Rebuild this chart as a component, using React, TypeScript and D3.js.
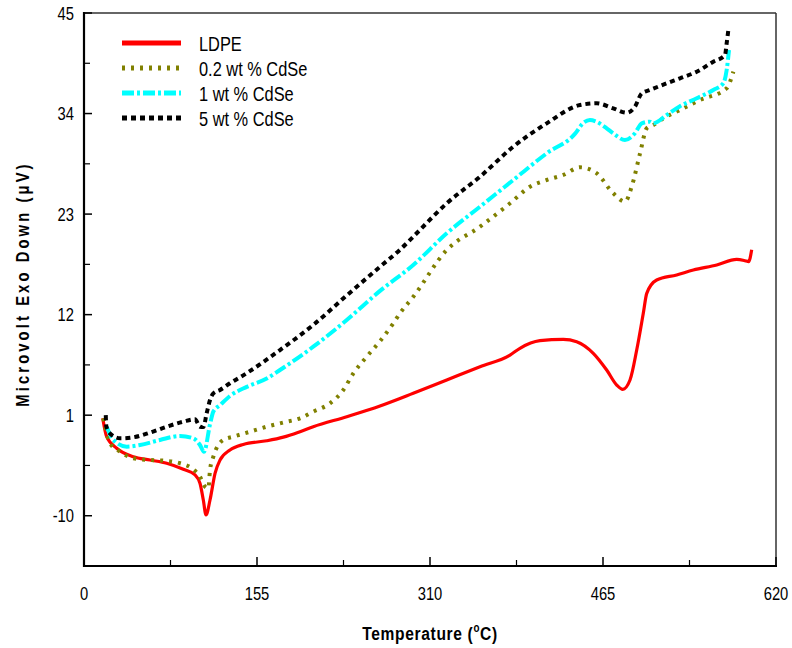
import React from 'react';
import * as d3 from 'd3';

// temperature (°C), microvolt readings
const ldpe: [number, number][] = [
  [16.8, 0.66], [20.3, -1.35], [29.3, -2.62], [44.2, -3.54], [59.1, -3.9], [74.1, -4.26],
  [89.0, -4.92], [99.5, -5.54], [103.9, -6.45], [106.9, -8.28], [109.3, -9.92], [112.9, -8.28],
  [117.4, -5.36], [121.9, -3.9], [130.8, -2.81], [142.7, -2.2], [163.7, -1.8], [178.6, -1.4],
  [193.5, -0.8], [205.4, -0.26], [235.4, 0.83], [265.2, 2.0], [295.0, 3.39], [325.0, 4.85],
  [354.8, 6.3], [381.7, 7.58], [390.6, 8.32], [408.5, 9.15], [429.4, 9.3], [441.4, 9.04],
  [456.3, 7.77], [468.3, 5.94], [477.3, 4.3], [482.7, 3.83], [489.2, 4.85], [495.2, 8.13],
  [501.1, 12.15], [504.2, 14.33], [513.1, 15.79], [531.0, 16.34], [545.9, 16.88], [566.9, 17.43],
  [584.8, 18.05], [592.3, 17.9], [595.5, 17.8], [598.2, 19.1],
];

const cdse02: [number, number][] = [
  [17.3, 0.66], [23.3, -2.07], [32.3, -2.99], [44.2, -3.72], [59.1, -3.9], [74.1, -4.0],
  [86.0, -4.26], [96.5, -4.8], [103.9, -5.72], [108.4, -6.82], [111.4, -7.0], [112.9, -5.0],
  [115.9, -3.54], [124.8, -1.71], [133.8, -1.35], [148.7, -0.81], [163.7, -0.26], [178.6, 0.2],
  [193.5, 0.66], [205.4, 1.38], [220.4, 2.3], [232.3, 3.75], [241.3, 5.58], [253.3, 7.4],
  [265.2, 9.1], [277.1, 11.05], [283.1, 12.15], [295.0, 13.96], [325.0, 19.07], [354.8, 21.62],
  [381.7, 24.18], [399.6, 26.0], [414.6, 26.73], [429.4, 27.28], [444.4, 28.12], [459.4, 27.46],
  [474.2, 25.27], [484.7, 24.36], [490.7, 26.0], [498.2, 29.65], [504.2, 32.39], [510.1, 32.75],
  [519.1, 33.48], [534.0, 34.39], [551.9, 35.48], [575.8, 36.76], [581.8, 38.58],
];

const cdse1: [number, number][] = [
  [20.3, -0.26], [26.3, -1.71], [38.3, -2.44], [50.2, -2.26], [68.1, -1.71], [86.0, -1.28],
  [97.9, -1.53], [103.9, -2.26], [107.5, -3.0], [112.9, 0.0], [115.9, 1.4], [121.9, 2.1],
  [130.8, 3.1], [145.8, 4.1], [163.7, 5.0], [175.6, 5.94], [205.4, 8.49], [235.4, 11.41],
  [265.2, 14.6], [295.0, 17.43], [325.0, 20.9], [354.8, 23.81], [384.6, 26.73], [414.6, 29.65],
  [440.0, 31.8], [447.5, 33.0], [453.3, 33.3], [459.4, 33.1], [468.3, 32.39], [474.2, 31.84],
  [484.7, 31.11], [493.6, 31.84], [499.7, 32.93], [507.1, 33.11], [510.1, 32.93], [522.1, 33.84],
  [534.0, 34.8], [549.0, 35.67], [563.8, 36.58], [572.8, 37.31], [575.8, 38.76], [577.9, 40.95],
];

const cdse5: [number, number][] = [
  [19.5, 1.0], [20.0, -0.2], [23.3, -1.0], [32.3, -1.53], [44.2, -1.42], [59.1, -0.91],
  [74.1, -0.26], [89.0, 0.29], [99.5, 0.55], [103.9, -0.26], [106.9, -0.3], [109.9, 1.2],
  [112.9, 2.66], [115.9, 3.39], [121.9, 3.76], [130.8, 4.49], [145.8, 5.6], [175.6, 8.13],
  [205.4, 10.87], [235.4, 14.1], [265.2, 17.24], [283.1, 19.1], [295.0, 20.53], [325.0, 24.18],
  [354.8, 27.09], [384.6, 30.37], [414.6, 32.93], [444.4, 34.93], [459.4, 35.12], [474.2, 34.57],
  [486.2, 34.09], [493.6, 34.75], [499.7, 36.21], [507.1, 36.58], [522.1, 37.31], [534.0, 37.86],
  [549.0, 38.58], [563.8, 39.67], [574.3, 40.4], [575.8, 41.69], [577.3, 43.14],
];

const seriesNames = ['LDPE', '0.2 wt % CdSe', '1 wt % CdSe', '5 wt % CdSe'];
const xTicks = [0, 155, 310, 465, 620];
const yTicks = [-10, 1, 12, 23, 34, 45];

const font = '"Liberation Sans", Arial, sans-serif';
const narrow = 0.82; // the original uses a condensed face

const W = 792, H = 648;
const left = 84, right = 776, top = 13, bottom = 566;

// text squeezed horizontally around its anchor point
const NText = ({ x, y, anchor = 'start', size, weight = 'normal', rotate = 0, spacing = 0, children }: any) => (
  <text transform={`translate(${x},${y}) rotate(${rotate}) scale(${narrow},1)`} textAnchor={anchor}
    fontSize={size} fontWeight={weight} fontFamily={font} letterSpacing={spacing}>
    {children}
  </text>
);

export default function App() {
  const x = d3.scaleLinear().domain([0, 620]).range([left, right]);
  const y = d3.scaleLinear().domain([-15.5, 45]).range([bottom, top]);

  const line = d3.line<[number, number]>()
    .x(d => x(d[0]))
    .y(d => y(d[1]))
    .curve(d3.curveMonotoneX);

  const styles = [
    { data: ldpe, color: '#ff0000', width: 3.2, dash: null },
    { data: cdse02, color: '#808000', width: 4, dash: '3 6' },
    { data: cdse1, color: '#00ffff', width: 4, dash: '12 3 3 3' },
    { data: cdse5, color: '#000000', width: 4, dash: '5 4' },
  ];

  // minor ticks sit halfway between majors
  const xMinor = xTicks.slice(0, -1).map((t, i) => (t + xTicks[i + 1]) / 2);
  const yMinor = yTicks.slice(0, -1).map((t, i) => (t + yTicks[i + 1]) / 2);

  return (
    <svg width={W} height={H} style={{ position: 'absolute', left: 0, top: 0, background: '#fff' }}>
      {/* frame */}
      <line x1={left} x2={right} y1={top} y2={top} stroke="#333" strokeWidth={1.5} />
      <line x1={right} x2={right} y1={top} y2={bottom} stroke="#333" strokeWidth={1.5} />
      <line x1={left} x2={left} y1={top - 1} y2={bottom + 1} stroke="#000" strokeWidth={2.2} />
      <line x1={left - 1} x2={right + 1} y1={bottom} y2={bottom} stroke="#000" strokeWidth={2.2} />

      {/* y ticks */}
      {yTicks.map(t => (
        <g key={'y' + t}>
          <line x1={left} x2={left + 8} y1={y(t)} y2={y(t)} stroke="#000" strokeWidth={1.5} />
          <NText x={left - 10} y={y(t) + 6.5} anchor="end" size={18}>{t}</NText>
        </g>
      ))}
      {yMinor.map(t => (
        <line key={'ym' + t} x1={left} x2={left + 6} y1={y(t)} y2={y(t)} stroke="#000" strokeWidth={1.2} />
      ))}

      {/* x ticks */}
      {xTicks.map(t => (
        <g key={'x' + t}>
          <line x1={x(t)} x2={x(t)} y1={bottom} y2={bottom - 9} stroke="#000" strokeWidth={1.5} />
          <NText x={x(t)} y={600} anchor="middle" size={18}>{t}</NText>
        </g>
      ))}
      {xMinor.map(t => (
        <line key={'xm' + t} x1={x(t)} x2={x(t)} y1={bottom} y2={bottom - 6} stroke="#000" strokeWidth={1.2} />
      ))}

      {/* series */}
      {styles.map((s, i) => (
        <path key={seriesNames[i]} d={line(s.data) || ''} fill="none" stroke={s.color}
          strokeWidth={s.width} strokeDasharray={s.dash || undefined} strokeLinejoin="round" />
      ))}

      {/* legend */}
      {styles.map((s, i) => {
        const ly = 43 + i * 25;
        return (
          <g key={'lg' + i}>
            <line x1={122} x2={181} y1={ly} y2={ly} stroke={s.color} strokeWidth={5}
              strokeDasharray={s.dash || undefined} />
            <NText x={199} y={ly + 8} size={20}>{seriesNames[i]}</NText>
          </g>
        );
      })}

      {/* axis titles */}
      <NText x={430} y={640} anchor="middle" size={19} weight="bold" spacing={0.8}>
        Temperature (<tspan fontSize={12} dy={-8}>o</tspan><tspan dy={8}>C)</tspan>
      </NText>
      <NText x={29} y={284} anchor="middle" size={18} weight="bold" rotate={-90} spacing={3.8}>
        Microvolt Exo Down (μV)
      </NText>
    </svg>
  );
}
